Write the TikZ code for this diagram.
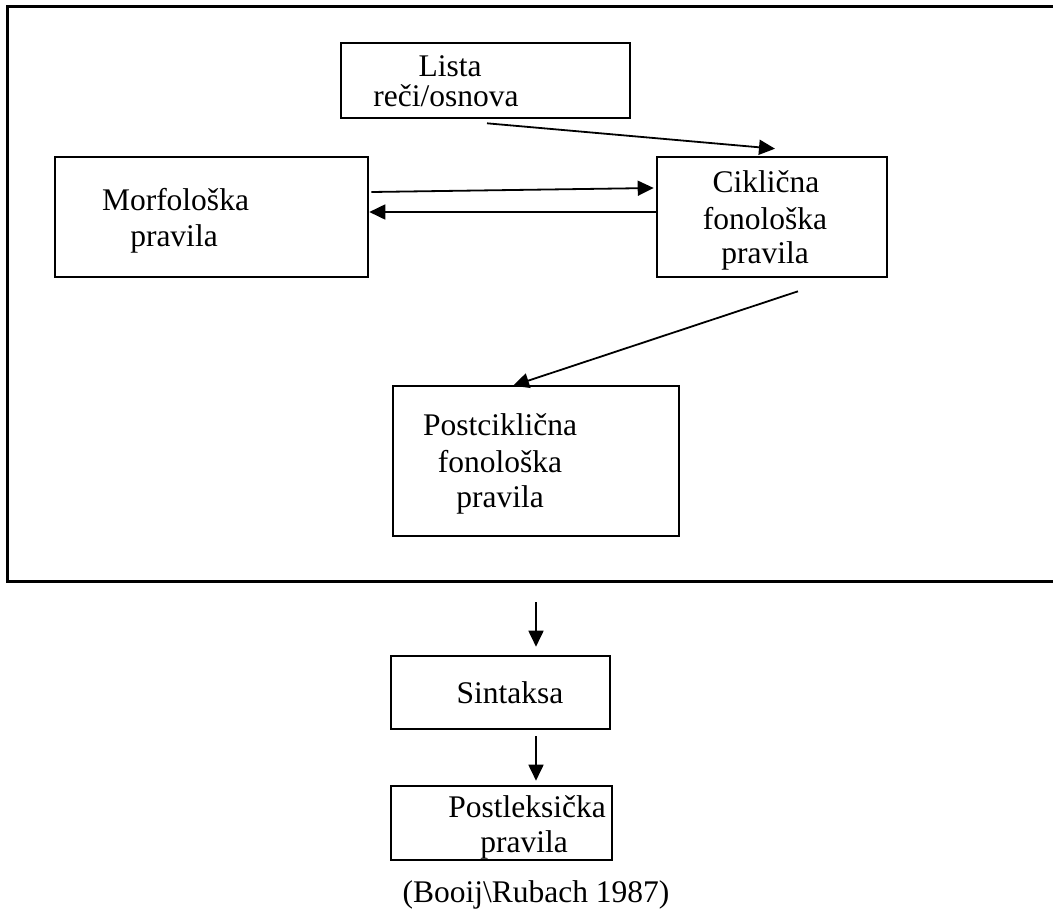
\documentclass[tikz,border=0pt]{standalone}
\usepackage{fontspec}
\setmainfont{Liberation Serif}
\usetikzlibrary{arrows.meta}
\begin{document}
\begin{tikzpicture}[x=1pt,y=-1pt,
  box/.style={draw,line width=2.6pt,inner sep=0pt},
  txt/.style={anchor=base,inner sep=0pt,font=\fontsize{31.5}{36}\selectfont},
  arr/.style={line width=1.8pt,-{Triangle[length=16pt,width=15pt]}}]
\useasboundingbox (0,0) rectangle (1053,913);

% open frame around the lexical component
\draw[line width=3pt] (1053,6) -- (7,6) -- (7,581) -- (1053,581);

% boxes
\node[box,minimum width=289pt,minimum height=75pt]  (lista) at (485.5,80.5) {};
\node[box,minimum width=313pt,minimum height=120pt] (morf)  at (211.5,217) {};
\node[box,minimum width=230pt,minimum height=120pt] (cikl)  at (772,217) {};
\node[box,minimum width=286pt,minimum height=150pt] (postc) at (536,461) {};
\node[box,minimum width=219pt,minimum height=73pt]  (sint)  at (500.5,692.5) {};
\node[box,minimum width=221pt,minimum height=74pt]  (postl) at (501.5,823) {};

% labels
\node[txt] (lista1) at (450,76)  {Lista};
\node[txt] (lista2) at (446,106) {reči/osnova};
\node[txt] (morf1)  at (175.5,210) {Morfološka};
\node[txt] (morf2)  at (174,246) {pravila};
\node[txt] (cikl1)  at (766,192) {Ciklična};
\node[txt] (cikl2)  at (765,229) {fonološka};
\node[txt] (cikl3)  at (765,263) {pravila};
\node[txt] (postc1) at (500,435) {Postciklična};
\node[txt] (postc2) at (500,472) {fonološka};
\node[txt] (postc3) at (500,507) {pravila};
\node[txt] (sint1)  at (510,703) {Sintaksa};
\node[txt] (postl1) at (527,817) {Postleksička};
\node[txt] (postl2) at (524,852) {pravila};
\node[txt] (cite)   at (536,902) {(Booij\textbackslash Rubach 1987)};

% connectors
\coordinate (out) at (536,602);
\draw[arr] ([shift={(1.5,4)}]lista.south) -- ([shift={(3,-7)}]cikl.north);
\draw[arr] ([shift={(2,-25)}]morf.east) -- ([shift={(-2,-29)}]cikl.west);
\draw[arr] ([shift={(0,-5)}]cikl.west) -- ([shift={(0,-5)}]morf.east);
\draw[arr] ([shift={(26,13)}]cikl.south) -- ([shift={(-23,1)}]postc.north);
\draw[arr] (out) -- ([shift={(35.5,-8)}]sint.north);
\draw[arr] ([shift={(35.5,6)}]sint.south) -- ([shift={(34.5,-4)}]postl.north);
\end{tikzpicture}
\end{document}
